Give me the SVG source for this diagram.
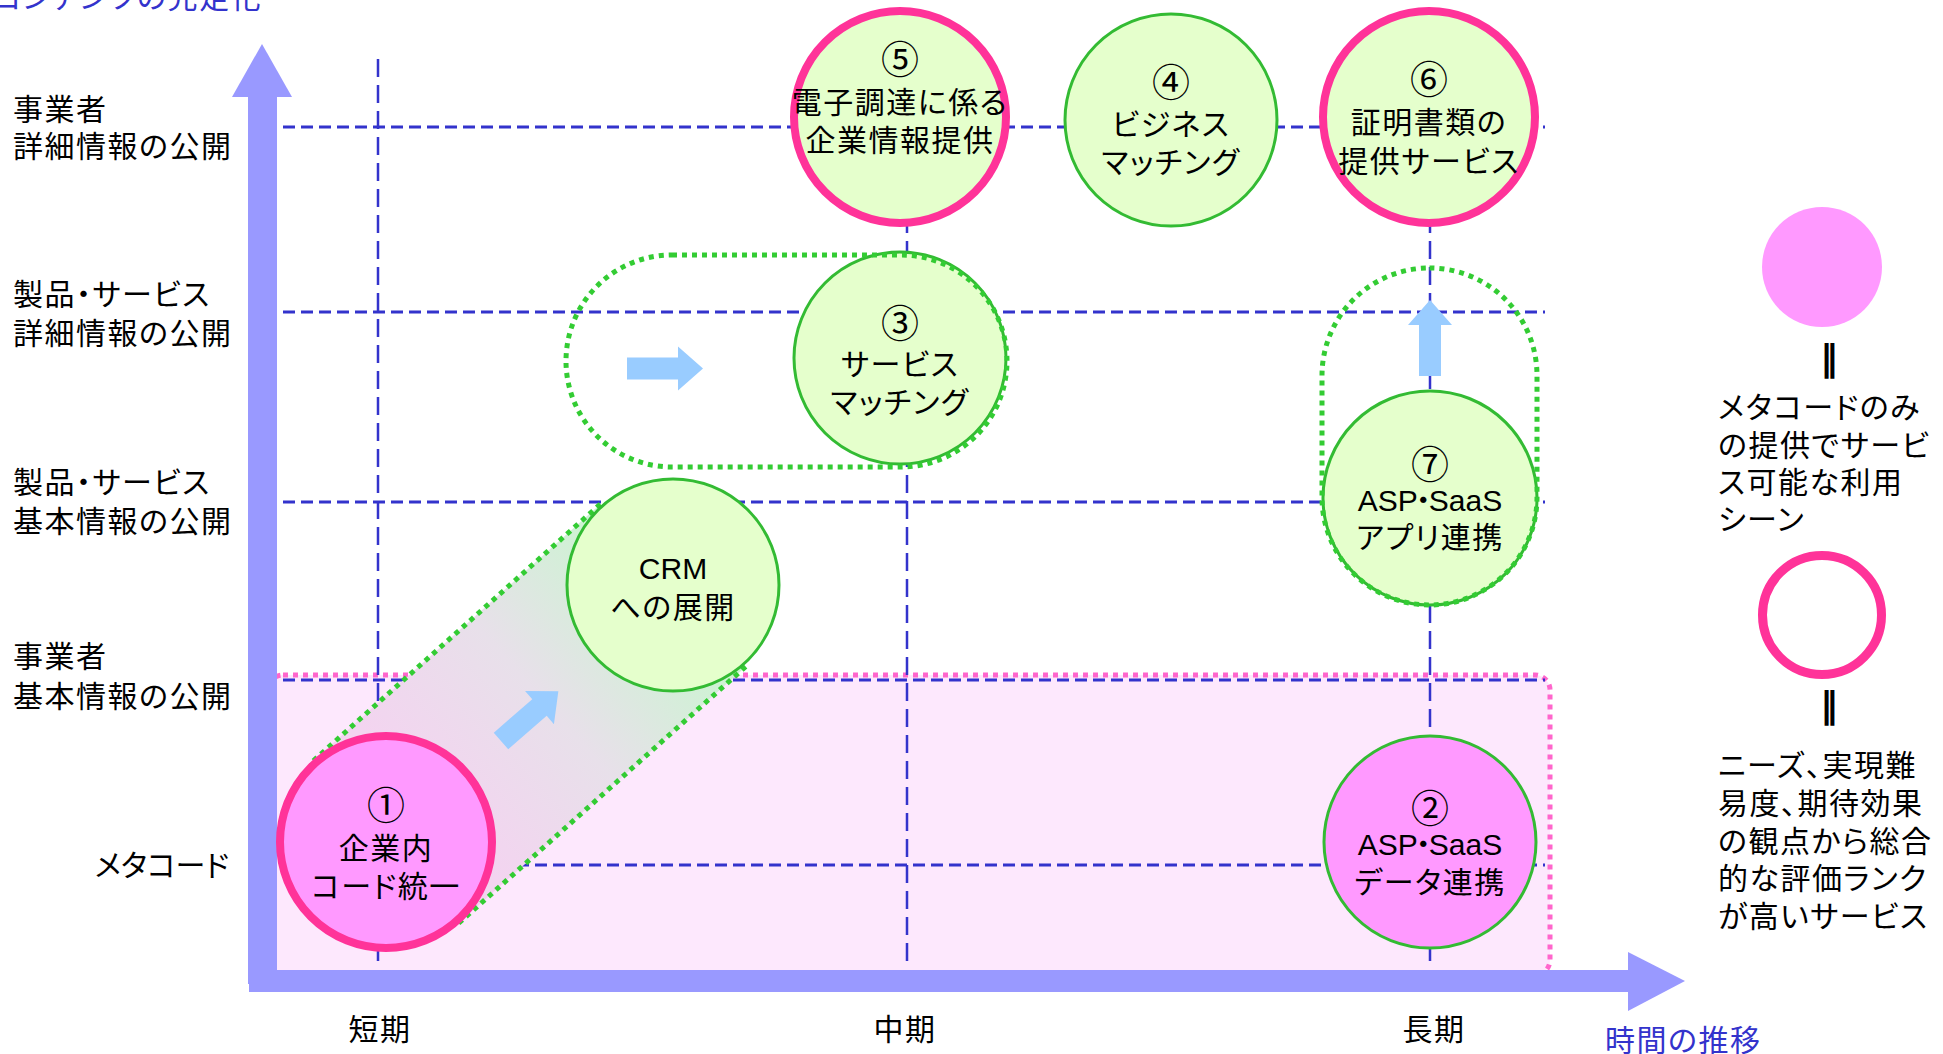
<svg xmlns="http://www.w3.org/2000/svg" width="1943" height="1054" viewBox="0 0 1943 1054">
<style>
  .t { font-family: "Noto Sans CJK JP", sans-serif; font-size: 30px; fill: #000; font-feature-settings: "palt"; letter-spacing: 1.5px; }
  .m { text-anchor: middle; }
  .num { font-size: 38px; letter-spacing: 0; }
  .lat { font-family: "Liberation Sans", "Noto Sans CJK JP", sans-serif; letter-spacing: 0; }
  .blue { fill: #3333cc; }
  .bars { font-family: "DejaVu Sans", sans-serif; font-weight: bold; font-size: 36px; text-anchor: middle; fill: #000; }
  .hgrid { stroke: #3333cc; stroke-width: 3; stroke-dasharray: 12 6; fill: none; }
  .vgrid { stroke: #3333cc; stroke-width: 2.5; stroke-dasharray: 18 8; fill: none; }
  .dotg { stroke: #33cc33; stroke-width: 5; stroke-dasharray: 5 5; fill: none; }
  .gc { fill: #e5ffcc; stroke: #33bb33; stroke-width: 3; }
  .pc { stroke: #ff3399; stroke-width: 8; }
  .axis { fill: #9999ff; }
  .arr { fill: #99ccff; }
</style>
<defs>
  <path id="arrow" d="M0,-11 L51,-11 L51,-22 L76,0 L51,22 L51,11 L0,11 Z"/>
  <linearGradient id="bandGrad" gradientUnits="userSpaceOnUse" x1="0" y1="0" x2="385" y2="0">
    <stop offset="0.15" stop-color="#f3d4f0"/>
    <stop offset="0.55" stop-color="#e8e0ea"/>
    <stop offset="1" stop-color="#c9f6cf"/>
  </linearGradient>
</defs>

<!-- title (cut at top) -->
<text class="t blue" x="262" y="8" text-anchor="end">コンテンツの充足化</text>

<!-- metacode region -->
<g id="metacode-region">
  <rect x="268" y="675" width="1282" height="300" rx="15" fill="#fde8fd" stroke="#ff66cc" stroke-width="5" stroke-dasharray="5 5"/>
</g>

<!-- grid -->
<g id="grid">
  <line class="hgrid" x1="283" y1="127" x2="1545" y2="127"/>
  <line class="hgrid" x1="283" y1="312" x2="1545" y2="312"/>
  <line class="hgrid" x1="283" y1="502" x2="1545" y2="502"/>
  <line class="hgrid" x1="283" y1="680" x2="1545" y2="680"/>
  <line class="hgrid" x1="283" y1="865" x2="1545" y2="865"/>
  <line class="vgrid" x1="378" y1="59" x2="378" y2="966"/>
  <line class="vgrid" x1="907" y1="59" x2="907" y2="966"/>
  <line class="vgrid" x1="1430" y1="59" x2="1430" y2="966"/>
</g>

<!-- axes -->
<g id="axes">
  <rect class="axis" x="248" y="95" width="29" height="889"/>
  <polygon class="axis" points="232,97 262,44 292,97"/>
  <rect class="axis" x="249" y="970" width="1381" height="22"/>
  <polygon class="axis" points="1628,952 1685,981 1628,1011"/>
</g>

<!-- connectors / groupings -->
<g id="connectors">
  <g transform="translate(386,842) rotate(-41.8)">
    <rect x="0" y="-109" width="385" height="218" fill="url(#bandGrad)"/>
    <line class="dotg" x1="0" y1="-109" x2="385" y2="-109"/>
    <line class="dotg" x1="0" y1="109" x2="385" y2="109"/>
  </g>
  <use href="#arrow" class="arr" transform="translate(501,741) rotate(-41)"/>
  <use href="#arrow" class="arr" transform="translate(627,368.5)"/>
  <use href="#arrow" class="arr" transform="translate(1430,376) rotate(-90)"/>
</g>

<!-- axis labels -->
<g id="y-labels" class="t">
  <text x="13" y="119.5">事業者</text>
  <text x="13" y="156.5">詳細情報の公開</text>
  <text x="13" y="305">製品・サービス</text>
  <text x="13" y="344">詳細情報の公開</text>
  <text x="13" y="493">製品・サービス</text>
  <text x="13" y="532">基本情報の公開</text>
  <text x="13" y="667">事業者</text>
  <text x="13" y="707">基本情報の公開</text>
  <text x="229" y="876" text-anchor="end" letter-spacing="0">メタコード</text>
</g>
<g id="x-labels" class="t">
  <text class="m" x="380" y="1040">短期</text>
  <text class="m" x="905" y="1040">中期</text>
  <text class="m" x="1434" y="1040">長期</text>
  <text class="blue" x="1605" y="1051">時間の推移</text>
</g>

<!-- nodes -->
<g id="node1">
  <circle cx="386" cy="842" r="106" fill="#ff99ff" class="pc"/>
  <text class="t m num" x="386" y="818.5">①</text>
  <text class="t m" x="386" y="858.5">企業内</text>
  <text class="t m" x="386" y="896.5">コード統一</text>
</g>
<g id="node-crm">
  <circle cx="673" cy="585" r="106" class="gc"/>
  <text class="t lat m" x="673" y="579">CRM</text>
  <text class="t m" x="673" y="617.5">への展開</text>
</g>
<g id="node3">
  <circle cx="900" cy="358" r="106" class="gc"/>
  <text class="t m num" x="900" y="337">③</text>
  <text class="t m" x="900" y="374.5">サービス</text>
  <text class="t m" x="900" y="413">マッチング</text>
</g>
<g id="node5">
  <circle cx="900" cy="117" r="106" fill="#e5ffcc" class="pc"/>
  <text class="t m num" x="900" y="72.5">⑤</text>
  <text class="t m" x="900" y="113">電子調達に係る</text>
  <text class="t m" x="900" y="151">企業情報提供</text>
</g>
<g id="node4">
  <circle cx="1171" cy="120" r="106" class="gc"/>
  <text class="t m num" x="1171" y="95.5">④</text>
  <text class="t m" x="1171" y="135">ビジネス</text>
  <text class="t m" x="1171" y="173">マッチング</text>
</g>
<g id="node6">
  <circle cx="1429" cy="117" r="106" fill="#e5ffcc" class="pc"/>
  <text class="t m num" x="1429" y="92.5">⑥</text>
  <text class="t m" x="1429" y="132.5">証明書類の</text>
  <text class="t m" x="1429" y="171.5">提供サービス</text>
</g>
<g id="node7">
  <circle cx="1430" cy="498" r="107" class="gc"/>
  <text class="t m num" x="1430" y="477.5">⑦</text>
  <text class="t lat m" x="1430" y="511" font-size="26">ASP<tspan dx="-2">・</tspan><tspan dx="-2">SaaS</tspan></text>
  <text class="t m" x="1430" y="548">アプリ連携</text>
</g>
<g id="node2">
  <circle cx="1430" cy="842" r="106" fill="#ff99ff" stroke="#33bb33" stroke-width="3"/>
  <text class="t m num" x="1430" y="822">②</text>
  <text class="t lat m" x="1430" y="855" font-size="26">ASP<tspan dx="-2">・</tspan><tspan dx="-2">SaaS</tspan></text>
  <text class="t m" x="1430" y="892.5">データ連携</text>
</g>

<!-- dotted groupings -->
<g id="groupings">
  <rect class="dotg" x="566" y="255" width="441" height="212" rx="106"/>
  <rect class="dotg" x="1322" y="268" width="215" height="337" rx="107.5"/>
</g>

<!-- legend -->
<g id="legend-meta">
  <circle cx="1822" cy="267" r="60" fill="#ff99ff"/>
  <text class="bars" x="1829" y="370">‖</text>
  <text class="t" x="1718" y="418">メタコードのみ</text>
  <text class="t" x="1718" y="456">の提供でサービ</text>
  <text class="t" x="1718" y="493">ス可能な利用</text>
  <text class="t" x="1718" y="530">シーン</text>
</g>
<g id="legend-rank">
  <circle cx="1822" cy="615" r="59.5" fill="none" stroke="#ff3399" stroke-width="9"/>
  <text class="bars" x="1829" y="717">‖</text>
  <text class="t" x="1718" y="776">ニーズ、実現難</text>
  <text class="t" x="1718" y="814">易度、期待効果</text>
  <text class="t" x="1718" y="852">の観点から総合</text>
  <text class="t" x="1718" y="889">的な評価ランク</text>
  <text class="t" x="1718" y="927">が高いサービス</text>
</g>
</svg>
